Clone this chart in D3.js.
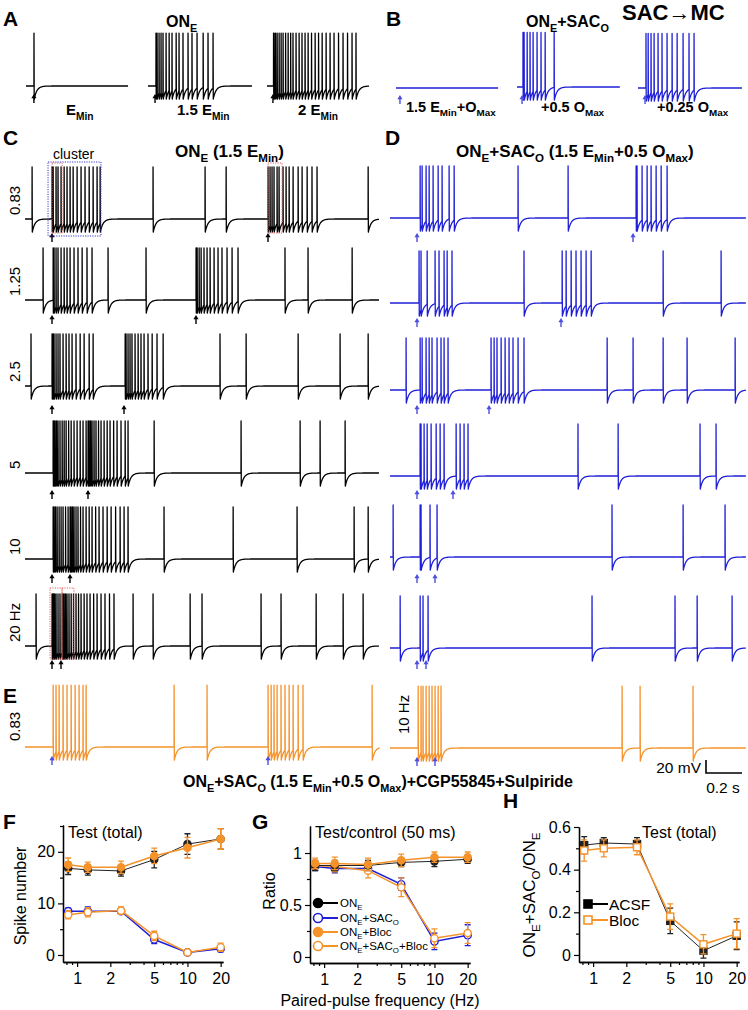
<!DOCTYPE html>
<html><head><meta charset="utf-8">
<script src="https://cdn.jsdelivr.net/npm/d3@7"></script>
<style>body{margin:0;background:#fff}svg{font-family:"Liberation Sans",Arial,sans-serif}</style>
</head><body><svg id="c" width="748" height="1010"></svg>
<script>
// ===== DATA =====
// Panel A/B: spike times (ms from trace start) and stimulus times
const aSpikes = [[44],
  [44,50,61,72,83,100,117,133,156,172,194,222,244,272,306,333,361],
  [36,39,47,56,67,78,89,103,117,131,144,161,178,194,211,228,247,267,286,306,328,350,372,397,422,447,472,494]];
const aStim = [44,39,33];
const aLabels = ["E_{Min}","1.5 E_{Min}","2 E_{Min}"];
const bSpikes = [[],
  [33,39,56,72,89,111,133,156,206],
  [44,56,72,89,111,133,161,189,217,250,283,311]];
const bStim = [22,28,39];
const bLabels = ["1.5 E_{Min}+O_{Max}","+0.5 O_{Max}","+0.25 O_{Max}"];
// Panel C (ON_E) and D (ON_E+SAC_O): rows of paired-pulse frequencies
const rowLabels = ["0.83","1.25","2.5","5","10","20 Hz"];
const cSpikes = [
  [39,150,156,172,183,200,217,233,250,267,289,311,333,356,378,400,417,711,1000,1117,1350,1361,1372,1383,1400,1411,1433,1450,1467,1489,1517,1539,1567,1594,1622,1906],
  [100,156,161,172,183,200,217,233,250,272,294,317,344,372,461,672,950,956,967,978,994,1011,1028,1050,1072,1094,1122,1150,1183,1444,1572,1817],
  [33,150,155,161,172,183,194,211,228,244,261,283,306,328,356,378,556,561,572,583,594,611,628,644,661,683,706,733,767,1083,1228,1517,1750,1906],
  [156,161,167,175,183,194,206,217,228,242,256,272,289,306,322,339,350,356,364,372,383,394,408,422,439,456,472,492,511,533,556,572,717,1200,1528,1639,1778],
  [156,161,169,178,189,200,211,225,239,250,256,264,272,283,294,308,322,339,356,372,392,411,433,456,478,503,528,550,572,772,1156,1511,1828,1906],
  [61,150,154,158,164,172,183,194,206,211,217,225,233,244,256,269,283,297,311,328,344,361,381,400,422,444,469,494,600,711,917,983,1311,1422,1617,1767,1878]];
const cStim = [[150,1350],[150,950],[150,550],[150,350],[150,250],[150,200]];
const dSpikes = [
  [167,178,200,217,239,267,289,328,356,711,989,1367,1372,1400,1428,1450,1478,1506,1539],
  [161,172,206,250,272,300,317,344,744,956,978,1006,1033,1061,1089,1117,1517,1839],
  [89,167,178,200,217,233,261,283,300,322,561,578,594,617,639,661,683,711,744,1206,1350,1517,1650,1917],
  [167,172,189,206,228,256,278,300,367,389,411,433,1044,1267,1722,1811],
  [17,167,172,222,261,1233,1628,1861],
  [56,167,183,211,1122,1583,1706,1900]];
const dStim = [[150,1350],[150,950],[150,550],[150,350],[150,250],[150,200]];
// Panel E (with blockers)
const eSpikes = [
  [156,172,189,211,233,256,278,300,322,339,828,1011,1350,1367,1383,1400,1422,1444,1467,1489,1517,1544,1928],
  [156,172,183,200,217,233,250,267,283,1289,1389,1683]];
const eStim = [[150,1350],[150,250]];
const eLabels = ["0.83","10 Hz"];
// Panels F-H
const freqs = [0.83,1.25,2.5,5,10,20];
const fOnE = [16.8,16.5,16.3,18.5,21.5,22.5], fOnEErr = [1.2,1.0,1.0,1.6,2.0,2.0];
const fBloc = [17.5,17.0,17.0,19.2,20.8,22.5], fBlocErr = [1.3,1.0,1.2,1.5,2.0,2.0];
const fSac = [8.5,8.5,8.5,3.0,0.5,1.2], fSacErr = [0.6,0.8,0.6,0.8,0.3,0.6];
const fSacBloc = [7.8,8.3,8.6,3.7,0.5,1.5], fSacBlocErr = [0.8,0.9,0.7,0.9,0.3,0.8];
const gOnE = [0.88,0.88,0.88,0.91,0.92,0.94], gOnEErr = [0.05,0.05,0.05,0.04,0.05,0.04];
const gSac = [0.87,0.85,0.85,0.70,0.15,0.21], gSacErr = [0.04,0.04,0.04,0.06,0.08,0.10];
const gBloc = [0.90,0.90,0.89,0.93,0.96,0.96], gBlocErr = [0.05,0.06,0.06,0.06,0.05,0.05];
const gSacBloc = [0.88,0.87,0.83,0.67,0.18,0.23], gSacBlocErr = [0.04,0.05,0.07,0.09,0.09,0.10];
const hAcsf = [0.515,0.525,0.52,0.16,0.02,0.09], hAcsfErr = [0.04,0.025,0.03,0.06,0.035,0.065];
const hBloc = [0.49,0.50,0.505,0.18,0.05,0.10], hBlocErr = [0.05,0.04,0.035,0.06,0.045,0.07];
const gLegend = ["ON_{E}","ON_{E}+SAC_{O}","ON_{E}+Bloc","ON_{E}+SAC_{O}+Bloc"];
const hLegend = ["ACSF","Bloc"];
const xTicks = [1,2,5,10,20];

// ===== RENDER =====
const svg = d3.select("#c");
const BLK="#000", BLU="#1f1fd8", ORG="#f5922a", ARB="#4d4de0";
const K = 0.18; // px per ms

function rich(g, str, x, y, fs, o={}){
  const t=g.append("text").attr("x",x).attr("y",y).attr("font-size",fs)
    .attr("font-weight",o.bold?"bold":"normal").attr("text-anchor",o.anchor||"start").attr("fill",o.fill||"#000");
  if(o.transform) t.attr("transform",o.transform);
  const parts=str.split(/(_\{[^}]*\})/).filter(p=>p);
  let down=false; const sh=fs*0.3;
  parts.forEach(p=>{
    if(p.startsWith("_{")){ t.append("tspan").attr("font-size",fs*0.68).attr("dy",down?0:sh).text(p.slice(2,-1)); down=true; }
    else { t.append("tspan").attr("dy",down?-sh:0).text(p); down=false; }
  });
  return t;
}
function wave(spikes, dur, peak){
  const rest=-60, trough=-80, tau=15, dt=1.5, pts=[];
  const s=[...spikes].sort((a,b)=>a-b); let last=null, si=0;
  const v=t=> last===null?rest:rest+(trough-rest)*Math.exp(-(t-last)/tau);
  for(let t=0;t<=dur;t+=dt){
    while(si<s.length && s[si]<=t){
      const ts=s[si]; pts.push([ts,v(ts)],[ts+0.4,peak],[ts+1.6,trough]); last=ts+1.6; si++;
    }
    if(last===null || t>last) pts.push([t,v(t)]);
  }
  return pts;
}
function trace(spikes, dur, x0, base, peak, color){
  const x=d3.scaleLinear().domain([0,dur]).range([x0,x0+dur*K]);
  const y=d3.scaleLinear().domain([-60,-40]).range([base,base-13]);
  svg.append("path").attr("d",d3.line().x(d=>x(d[0])).y(d=>y(d[1]))(wave(spikes,dur,peak)))
    .attr("fill","none").attr("stroke",color).attr("stroke-width",1.3).attr("stroke-linejoin","round");
  return x;
}
function arrow(x,top,color){
  svg.append("path").attr("d",`M${x},${top} l-2.6,4.2 h1.9 v4.8 h1.4 v-4.8 h1.9 z`).attr("fill",color);
}

// Panel letters
[["A",3,26],["B",386,26],["C",3,145],["D",385,145],["E",3,703],["F",3,829],["G",252,829],["H",503,808]]
  .forEach(([l,x,y])=>svg.append("text").attr("x",x).attr("y",y).attr("font-size",21).attr("font-weight","bold").text(l));

// Panel A
const aLay=[[26,567,86],[148,578,86],[267,567,86]];
const aLabX=[66,177,298];
aSpikes.forEach((s,i)=>{ const [x0,dur,b]=aLay[i]; const x=trace(s,dur,x0,b,21.5,BLK); arrow(x(aStim[i]),94,BLK);
  rich(svg,aLabels[i],aLabX[i],115,15,{bold:true}); });
rich(svg,"ON_{E}",166,27,16,{bold:true});

// Panel B
const bLay=[[396,567,88],[517,572,87],[638,578,88]];
const bLabX=[406,541,657];
bSpikes.forEach((s,i)=>{ const [x0,dur,b]=bLay[i]; const x=trace(s,dur,x0,b,24,BLU); arrow(x(bStim[i]),95,ARB);
  rich(svg,bLabels[i],bLabX[i],112,14.5,{bold:true}); });
rich(svg,"ON_{E}+SAC_{O}",526,27,16,{bold:true});
svg.append("text").attr("x",622).attr("y",20).attr("font-size",22).attr("font-weight","bold").text("SAC\u2192MC");

// Panel C & D
const cBase=[219,300,386,473,559,646], dBase=[218,303,390,476,557,648];
const cArr=[14,15,19,17,15,14], dArr=[15,15,15,14,17,12];
cSpikes.forEach((s,i)=>{
  const x=trace(s,1967,25,cBase[i],20,BLK);
  cStim[i].forEach(t=>arrow(x(t),cBase[i]+cArr[i],BLK));
  svg.append("text").attr("transform",`translate(19.5,${cBase[i]-4}) rotate(-90)`).attr("font-size",15).text(rowLabels[i]);
  if(i===0){
    svg.append("rect").attr("x",x(128)).attr("y",162).attr("width",x(422)-x(128)).attr("height",74)
      .attr("fill","none").attr("stroke","#3a3ad0").attr("stroke-dasharray","1.2,1.2").attr("stroke-width",1);
    [[150,206],[1350,1428]].forEach(([a,b])=>svg.append("rect").attr("x",x(a)).attr("y",163).attr("width",x(b)-x(a)).attr("height",70)
      .attr("fill","none").attr("stroke","#e06060").attr("stroke-dasharray","1.2,1.2").attr("stroke-width",1));
  }
  if(i===5){
    [[139,206],[206,272]].forEach(([a,b])=>svg.append("rect").attr("x",x(a)).attr("y",588).attr("width",x(b)-x(a)).attr("height",71)
      .attr("fill","none").attr("stroke","#e06060").attr("stroke-dasharray","1.2,1.2").attr("stroke-width",1));
  }
});
svg.append("text").attr("x",53).attr("y",159).attr("font-size",14).text("cluster");
rich(svg,"ON_{E} (1.5 E_{Min})",175,157,17,{bold:true});
dSpikes.forEach((s,i)=>{
  const x=trace(s,1978,390,dBase[i],20,BLU);
  dStim[i].forEach(t=>arrow(x(t),dBase[i]+dArr[i],ARB));
});
rich(svg,"ON_{E}+SAC_{O} (1.5 E_{Min}+0.5 O_{Max})",456,157,17,{bold:true});

// Panel E
const eLay=[[25,1972,747],[390,1978,748]];
eSpikes.forEach((s,i)=>{ const [x0,dur,b]=eLay[i]; const x=trace(s,dur,x0,b,35,ORG);
  eStim[i].forEach(t=>arrow(x(t),b+9,ARB)); });
svg.append("text").attr("transform","translate(19.5,741) rotate(-90)").attr("font-size",15).text(eLabels[0]);
svg.append("text").attr("transform","translate(408.5,734) rotate(-90)").attr("font-size",15).text(eLabels[1]);
rich(svg,"ON_{E}+SAC_{O}  (1.5 E_{Min}+0.5 O_{Max})+CGP55845+Sulpiride",183,787,16,{bold:true});
// scale bar (20 mV, 0.2 s)
{
  const ys=d3.scaleLinear().domain([0,20]).range([773,760]);
  const xs=d3.scaleLinear().domain([0,200]).range([706,706+200*K]);
  svg.append("path").attr("d",`M${xs(0)},${ys(20)} V${ys(0)} H${xs(200)}`).attr("fill","none").attr("stroke","#000").attr("stroke-width",1.6);
  svg.append("text").attr("x",701).attr("y",773).attr("text-anchor","end").attr("font-size",15.5).text("20 mV");
  svg.append("text").attr("x",723).attr("y",793).attr("text-anchor","middle").attr("font-size",15.5).text("0.2 s");
}

// ===== Panels F, G, H =====
function panel(o){
  const g=svg.append("g");
  const x=d3.scaleLog().domain([0.745,21]).range(o.xr);
  const y=d3.scaleLinear().domain(o.yd).range(o.yr);
  g.append("g").attr("transform",`translate(0,${o.yr[0]})`)
    .call(d3.axisBottom(x).tickValues(xTicks).tickFormat(d3.format("d")).tickSize(5).tickSizeOuter(0).tickPadding(6));
  g.append("g").attr("transform",`translate(0,${o.yr[0]})`)
    .call(d3.axisBottom(x).tickValues([0.8,0.9,3,4,6,7,8,9]).tickFormat("").tickSize(3).tickSizeOuter(0));
  g.append("g").attr("transform",`translate(${o.xr[0]},0)`)
    .call(d3.axisLeft(y).tickValues(o.yMajor).tickFormat(o.fmt).tickSize(5).tickSizeOuter(0).tickPadding(3));
  g.append("g").attr("transform",`translate(${o.xr[0]},0)`)
    .call(d3.axisLeft(y).tickValues(o.yMinor).tickFormat("").tickSize(3).tickSizeOuter(0));
  g.selectAll(".domain").attr("stroke","#000").attr("stroke-width",1.3);
  g.selectAll(".tick line").attr("stroke","#000").attr("stroke-width",1.2);
  g.selectAll(".tick text").attr("font-size",16).attr("font-family","Liberation Sans, Arial, sans-serif").attr("fill","#000");
  return {g,x,y};
}
function series(p, vals, errs, color, lw, shape, filled){
  const {g,x,y}=p;
  const pts=freqs.map((f,i)=>[f,vals[i],errs[i]]);
  g.append("path").attr("d",d3.line().x(d=>x(d[0])).y(d=>y(d[1]))(pts)).attr("fill","none").attr("stroke",color).attr("stroke-width",lw);
  pts.forEach(([f,v,e])=>{
    const cx=x(f), y1=y(v-e), y2=y(v+e);
    g.append("path").attr("d",`M${cx},${y1}V${y2}M${cx-3},${y1}H${cx+3}M${cx-3},${y2}H${cx+3}`).attr("stroke",color).attr("stroke-width",1.3).attr("fill","none");
  });
  pts.forEach(([f,v])=>{
    if(shape==="c") g.append("circle").attr("cx",x(f)).attr("cy",y(v)).attr("r",3.6)
      .attr("fill",filled?color:"#fff").attr("stroke",color).attr("stroke-width",1.4);
    else g.append("rect").attr("x",x(f)-3.5).attr("y",y(v)-3.5).attr("width",7).attr("height",7)
      .attr("fill",filled?color:"#fff").attr("stroke",color).attr("stroke-width",1.4);
  });
}
// F
const pF=panel({xr:[63,223],yr:[962,825],yd:[-1.36,25.2],yMajor:[0,10,20],yMinor:[5,15,25],fmt:d3.format("d")});
series(pF,fSac,fSacErr,BLU,1.5,"c",false);
series(pF,fSacBloc,fSacBlocErr,ORG,1.5,"c",false);
series(pF,fOnE,fOnEErr,"#222",1,"c",true);
series(pF,fBloc,fBlocErr,ORG,1.5,"c",true);
svg.append("text").attr("x",68).attr("y",838).attr("font-size",16).text("Test (total)");
svg.append("text").attr("transform","translate(26,896) rotate(-90)").attr("text-anchor","middle").attr("font-size",16).text("Spike number");

// G
const pG=panel({xr:[310,470],yr:[963,826],yd:[-0.058,1.26],yMajor:[0,0.5,1],yMinor:[0.25,0.75],fmt:d=>d===0?"0":(d===1?"1":"0.5")});
series(pG,gSac,gSacErr,BLU,1.5,"c",false);
series(pG,gSacBloc,gSacBlocErr,ORG,1.5,"c",false);
series(pG,gOnE,gOnEErr,"#222",1,"c",true);
series(pG,gBloc,gBlocErr,ORG,1.5,"c",true);
svg.append("text").attr("x",315).attr("y",838).attr("font-size",16).text("Test/control (50 ms)");
svg.append("text").attr("transform","translate(275,891) rotate(-90)").attr("text-anchor","middle").attr("font-size",16).text("Ratio");
svg.append("text").attr("x",380).attr("y",1006).attr("text-anchor","middle").attr("font-size",16).text("Paired-pulse frequency (Hz)");
{
  const cols=[[ "#000",true],[BLU,false],[ORG,true],[ORG,false]];
  const ly=[903,918,932,946];
  gLegend.forEach((t,i)=>{
    const [c,f]=cols[i];
    svg.append("line").attr("x1",317).attr("x2",338).attr("y1",ly[i]).attr("y2",ly[i]).attr("stroke",c).attr("stroke-width",2);
    svg.append("circle").attr("cx",318).attr("cy",ly[i]).attr("r",4.5).attr("fill",f?c:"#fff").attr("stroke",c).attr("stroke-width",1.6);
    rich(svg,t,340,ly[i]+4,11.5,{});
  });
}

// H
const pH=panel({xr:[579,739],yr:[962,827],yd:[-0.033,0.6],yMajor:[0,0.2,0.4,0.6],yMinor:[0.1,0.3,0.5],fmt:d=>d===0?"0":d3.format(".1f")(d)});
series(pH,hAcsf,hAcsfErr,"#222",1,"s",true);
series(pH,hBloc,hBlocErr,ORG,1.5,"s",false);
svg.append("text").attr("x",642).attr("y",838).attr("font-size",16).text("Test (total)");
rich(svg,"ON_{E}+SAC_{O}/ON_{E}",0,0,17,{anchor:"middle",transform:"translate(535,895) rotate(-90)"});
{
  const cols=[["#000",true],[ORG,false]]; const ly=[904,920];
  hLegend.forEach((t,i)=>{
    const [c,f]=cols[i];
    svg.append("line").attr("x1",588).attr("x2",608).attr("y1",ly[i]).attr("y2",ly[i]).attr("stroke",c).attr("stroke-width",2);
    svg.append("rect").attr("x",584).attr("y",ly[i]-4).attr("width",8).attr("height",8).attr("fill",f?c:"#fff").attr("stroke",c).attr("stroke-width",1.6);
    svg.append("text").attr("x",609).attr("y",ly[i]+5.5).attr("font-size",15.5).text(t);
  });
}
</script></body></html>
